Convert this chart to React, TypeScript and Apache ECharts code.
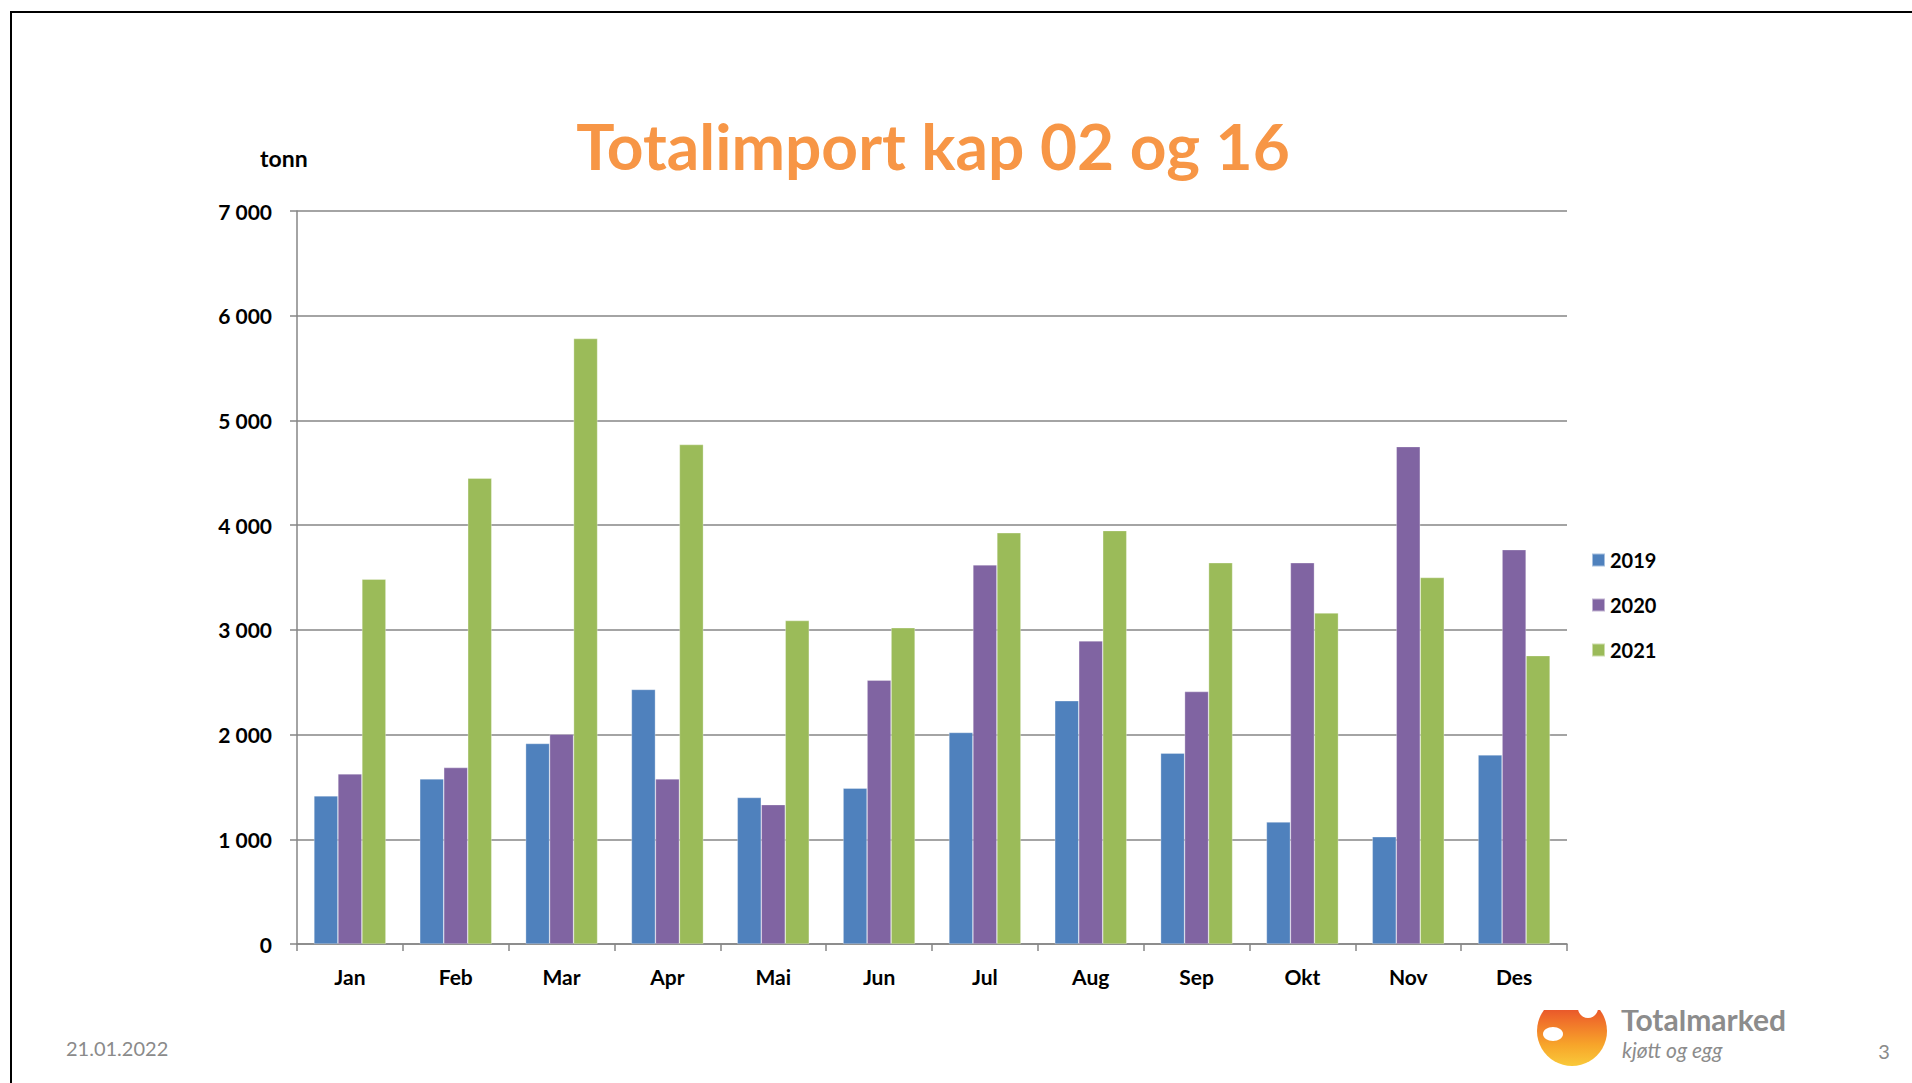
import React, { useEffect, useRef } from "react";
import * as echarts from "echarts";

const months = ["Jan", "Feb", "Mar", "Apr", "Mai", "Jun", "Jul", "Aug", "Sep", "Okt", "Nov", "Des"];
const seriesNames = ["2019", "2020", "2021"];
const s2019 = [1415, 1577, 1915, 2431, 1399, 1488, 2020, 2323, 1823, 1165, 1024, 1806];
const s2020 = [1625, 1685, 2004, 1577, 1331, 2520, 3621, 2895, 2411, 3641, 4750, 3766];
const s2021 = [3484, 4448, 5782, 4770, 3089, 3020, 3927, 3948, 3641, 3161, 3500, 2754];
const colors = ["#4F81BD", "#8064A2", "#9BBB59"];
const yMin = 0;
const yMax = 7000;
const yStep = 1000;

const FONT = "Lato";

function fmt(v: number): string {
  const s = String(Math.round(v));
  return s.replace(/\B(?=(\d{3})+(?!\d))/g, " ");
}

export default function App() {
  const ref = useRef<HTMLDivElement>(null);
  useEffect(() => {
    if (!ref.current) return;
    const chart = echarts.init(ref.current, undefined, { renderer: "svg" });
    const data = [s2019, s2020, s2021];
    chart.setOption({
      animation: false,
      backgroundColor: "#ffffff",
      textStyle: { fontFamily: FONT },
      grid: { left: 297, right: 345, top: 211, bottom: 139, containLabel: false },
      legend: {
        orient: "vertical",
        left: 1586,
        top: 545,
        itemWidth: 13,
        itemHeight: 13,
        itemGap: 25,
        icon: "rect",
        data: seriesNames,
        textStyle: { fontFamily: FONT, fontWeight: "bold", fontSize: 20, color: "#000", padding: [0, 0, 0, 0] },
      },
      xAxis: {
        type: "category",
        data: months,
        axisLine: { show: true, lineStyle: { color: "#868686", width: 1.5 } },
        axisTick: { show: true, length: 7, lineStyle: { color: "#868686", width: 1.5 } },
        axisLabel: { fontFamily: FONT, fontWeight: "bold", fontSize: 21, color: "#000", margin: 22 },
      },
      yAxis: {
        type: "value",
        min: yMin,
        max: yMax,
        interval: yStep,
        axisLine: { show: true, lineStyle: { color: "#868686", width: 1.5 } },
        axisTick: { show: true, length: 7, lineStyle: { color: "#868686", width: 1.5 } },
        splitLine: { show: true, lineStyle: { color: "#868686", width: 1.5 } },
        axisLabel: {
          fontFamily: FONT,
          fontWeight: "bold",
          fontSize: 21,
          color: "#000",
          margin: 25,
          formatter: (v: number) => fmt(v),
        },
      },
      series: seriesNames.map((name, i) => ({
        name,
        type: "bar",
        data: data[i],
        barGap: "0%",
        barCategoryGap: "32%",
        itemStyle: { color: colors[i], borderColor: "rgba(255,255,255,0.5)", borderWidth: 0.6 },
      })),
      graphic: [
        {
          type: "rect",
          silent: true,
          shape: { x: 11, y: 12, width: 2000, height: 2000 },
          style: { fill: "none", stroke: "#000", lineWidth: 2 },
        },
        {
          type: "text",
          x: 933,
          y: 145,
          style: {
            text: "Totalimport kap 02 og 16",
            fill: "#F79646",
            font: `bold 64px ${FONT}`,
            textAlign: "center",
            textVerticalAlign: "middle",
          },
        },
        {
          type: "text",
          x: 260,
          y: 158,
          style: { text: "tonn", fill: "#000", font: `bold 23px ${FONT}`, textAlign: "left", textVerticalAlign: "middle" },
        },
        {
          type: "text",
          x: 66,
          y: 1048,
          style: { text: "21.01.2022", fill: "#8A8A8A", font: `20px ${FONT}`, textAlign: "left", textVerticalAlign: "middle" },
        },
        {
          type: "text",
          x: 1884,
          y: 1051,
          style: { text: "3", fill: "#8A8A8A", font: `20px ${FONT}`, textAlign: "center", textVerticalAlign: "middle" },
        },
        // logo
        {
          type: "circle",
          shape: { cx: 1572, cy: 1031, r: 35 },
          style: {
            fill: new echarts.graphic.LinearGradient(0, 0, 0, 1, [
              { offset: 0, color: "#E03A2A" },
              { offset: 0.35, color: "#F0702A" },
              { offset: 0.7, color: "#F7A52A" },
              { offset: 1, color: "#F9C93A" },
            ]),
          },
        },
        { type: "circle", shape: { cx: 1588, cy: 1008, r: 10 }, style: { fill: "#fff" } },
        { type: "ellipse", shape: { cx: 1553, cy: 1034, rx: 10, ry: 7 }, style: { fill: "#fff" } },
        {
          type: "text",
          x: 1621,
          y: 1019,
          style: {
            text: "Totalmarked",
            fill: "#8C8C8C",
            font: `bold 30px ${FONT}`,
            lineHeight: 24,
            textAlign: "left",
            textVerticalAlign: "middle",
          },
        },
        {
          type: "rect",
          shape: { x: 1520, y: 993, width: 300, height: 17 },
          style: { fill: "#fff" },
        },
        {
          type: "text",
          x: 1622,
          y: 1049,
          style: {
            text: "kjøtt og egg",
            fill: "#8C8C8C",
            font: `italic 21px ${FONT}`,
            lineHeight: 18,
            textAlign: "left",
            textVerticalAlign: "middle",
          },
        },
      ],
    });
    return () => chart.dispose();
  }, []);
  return (
    <div
      ref={ref}
      style={{ position: "fixed", left: 0, top: 0, width: 1912, height: 1083, background: "#fff" }}
    />
  );
}
